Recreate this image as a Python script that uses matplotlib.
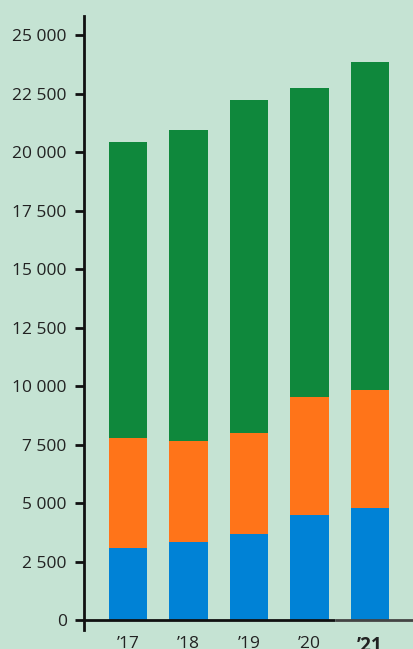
import matplotlib
matplotlib.use('Agg')
import matplotlib.pyplot as plt
from matplotlib.ticker import FuncFormatter

# values
years = ["\u201917", "\u201918", "\u201919", "\u201920", "\u201921"]
blue_part = [3100, 3350, 3700, 4510, 4810]
orange_part = [4700, 4320, 4310, 5040, 5040]
green_part = [12650, 13290, 14230, 13200, 14020]
y_ticks = [0, 2500, 5000, 7500, 10000, 12500, 15000, 17500, 20000, 22500, 25000]

bg = '#c5e3d3'
plt.rcParams['font.family'] = ['Open Sans', 'DejaVu Sans']

fig = plt.figure(figsize=(4.13, 6.49), dpi=100, facecolor=bg)
ax = fig.add_axes([84 / 413, 19 / 649, 1 - 84 / 413, 614 / 649])
ax.set_facecolor(bg)

x = list(range(len(years)))
bottoms2 = [b + o for b, o in zip(blue_part, orange_part)]
ax.bar(x, blue_part, width=0.63, color='#0082d6', zorder=2)
ax.bar(x, orange_part, width=0.63, bottom=blue_part, color='#ff7419', zorder=2)
ax.bar(x, green_part, width=0.63, bottom=bottoms2, color='#0f883c', zorder=2)

ax.set_xlim(-0.727, 4.71)
ax.set_ylim(-406, 25833)

for s in ['top', 'right']:
    ax.spines[s].set_visible(False)
ax.spines['left'].set_linewidth(2)
ax.spines['left'].set_color('#111111')
ax.spines['bottom'].set_visible(False)
# x axis line, darker part up to the last bar and a grey tail
ax.plot([-0.727, 3.42], [0, 0], color='#111111', lw=2, zorder=3, clip_on=False, solid_capstyle='butt')
ax.plot([3.42, 4.71], [0, 0], color='#444444', lw=2, zorder=3, clip_on=False, solid_capstyle='butt')

ax.set_yticks(y_ticks)
ax.yaxis.set_major_formatter(FuncFormatter(lambda v, p: f"{int(v):,}".replace(',', ' ')))
ax.tick_params(axis='y', length=6.5, width=2, color='#111111', pad=6,
               labelsize=12.5, labelcolor='#222222')

ax.set_xticks(x)
ax.set_xticklabels(years)
ax.tick_params(axis='x', length=0, pad=4, labelsize=12.5, labelcolor='#222222')
ax.get_xticklabels()[-1].set_fontweight('bold')
ax.get_xticklabels()[-1].set_fontsize(13.5)

fig.savefig('out.png', dpi=100, facecolor=bg)
